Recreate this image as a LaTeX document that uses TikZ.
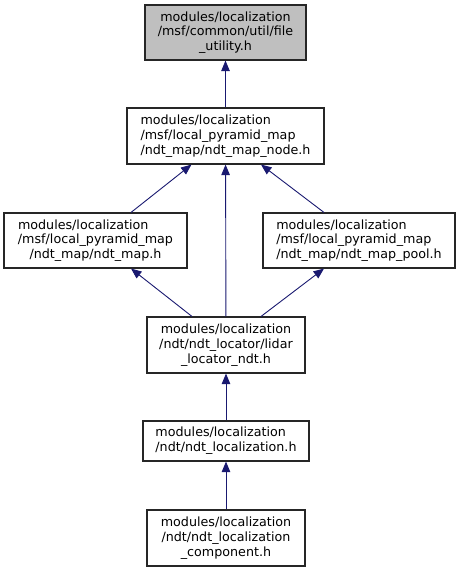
\documentclass[tikz,border=0pt]{standalone}
\usepackage{fontspec}
\setmainfont{DejaVu Sans}
\usetikzlibrary{positioning, arrows.meta}
\definecolor{midnightblue}{RGB}{25,25,112}
\definecolor{rootgray}{RGB}{191,191,191}

\begin{document}
\begin{tikzpicture}[x=1pt, y=-1pt,
        file/.style={draw=black!85, line width=1.1pt, inner sep=0pt, font=\fontsize{12.7}{14.7}\selectfont},
        link/.style={midnightblue, line width=0.9pt, -{Triangle[length=10.5pt, width=8.5pt]}}]
    \useasboundingbox (0,0) rectangle (460,572);
    % include graph, top header first
    \node [file, fill=rootgray, minimum width=161pt, minimum height=55pt, align=center] (n0) at (225.5,32.5)
        {modules/localization\\/msf/common/util/file\\\_utility.h};
    \node [file, minimum width=197pt, minimum height=56pt, align=left] (n1) at (225.5,136)
        {modules/localization\\/msf/local\_pyramid\_map\\/ndt\_map/ndt\_map\_node.h};
    \node [file, minimum width=183pt, minimum height=55pt, align=center] (n2) at (95.5,240.5)
        {\makebox[155pt][l]{modules/localization}\\/msf/local\_pyramid\_map\\/ndt\_map/ndt\_map.h};
    \node [file, minimum width=192pt, minimum height=55pt, align=left] (n3) at (359,240.5)
        {modules/localization\\/msf/local\_pyramid\_map\\/ndt\_map/ndt\_map\_pool.h};
    \node [file, minimum width=158pt, minimum height=56pt, align=center] (n4) at (226,345)
        {modules/localization\\/ndt/ndt\_locator/lidar\\\_locator\_ndt.h};
    \node [file, minimum width=166pt, minimum height=40pt, align=left] (n5) at (226,441)
        {modules/localization\\/ndt/ndt\_localization.h};
    \node [file, minimum width=158pt, minimum height=56pt, align=center] (n6) at (226,538)
        {modules/localization\\/ndt/ndt\_localization\\\_component.h};

    % edges point at the included file
    \draw [link] (n1) -- (n0);
    \draw [link] ([xshift=35.5pt]n2.north) -- ([xshift=-34pt]n1.south);
    \draw [link] ([xshift=-35pt]n3.north) -- ([xshift=35.5pt]n1.south);
    \draw [link] (n4) -- (n1);
    \draw [link] ([xshift=-34pt]n4.north) -- ([xshift=35.5pt]n2.south);
    \draw [link] ([xshift=35pt]n4.north) -- ([xshift=-35pt]n3.south);
    \draw [link] (n5) -- (n4);
    \draw [link] (n6) -- (n5);
\end{tikzpicture}
\end{document}
